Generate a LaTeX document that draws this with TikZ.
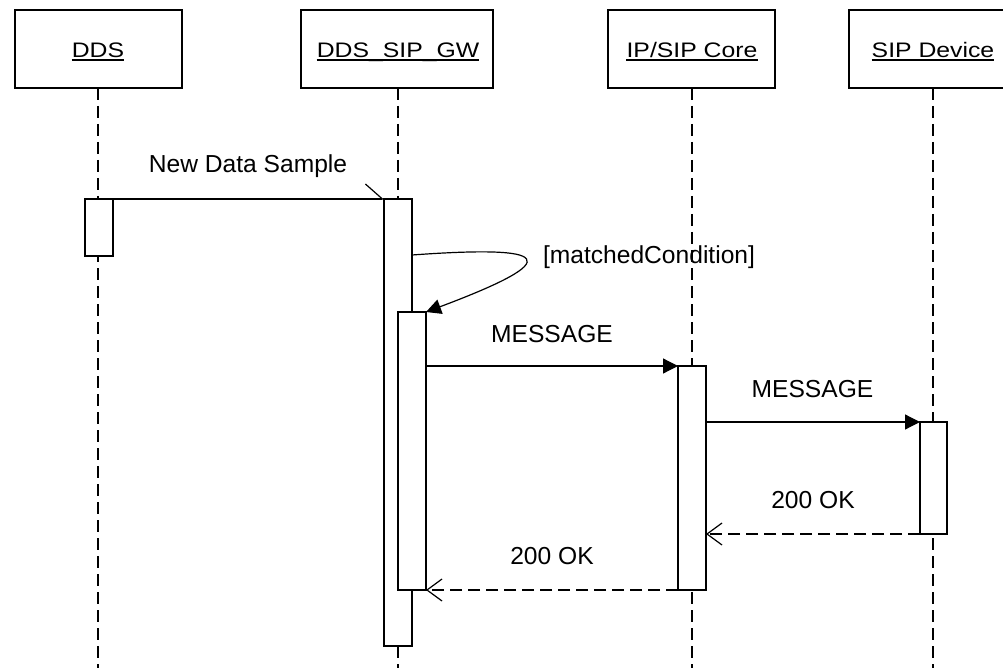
\documentclass[tikz,border=0pt]{standalone}
\usepackage{fontspec}
\setmainfont{Liberation Sans}
\usetikzlibrary{arrows.meta}

\begin{document}
\begin{tikzpicture}[x=1pt,y=-1pt,
  msgfont/.style={font=\fontsize{24.6}{28}\selectfont},
  lbl/.style={msgfont, anchor=base, inner sep=0pt},
  objbox/.style={draw, line width=1.2pt, rectangle, inner sep=0pt, outer sep=0pt,
                 minimum height=78pt},
  objname/.style={font=\fontsize{21}{24}\selectfont, anchor=base, inner sep=0pt},
  act/.style={draw, fill=white, line width=1.2pt, rectangle, inner sep=0pt,
              outer sep=0pt, minimum width=28pt},
  life/.style={line width=1.2pt, dash pattern=on 12pt off 6pt},
  call/.style={line width=1.2pt, -{Triangle[length=15pt,width=15pt]}},
  async/.style={line width=1.2pt, -{Straight Barb[harpoon,length=17pt,width=30pt]}},
  reply/.style={line width=1.2pt, dash pattern=on 12pt off 6pt,
                -{Straight Barb[length=15pt,width=22pt]}},
  uline/.style={line width=1.3pt}]

\clip (0,0) rectangle (1003,668);
\fill[white] (0,0) rectangle (1003,668);

% participant boxes
\node[objbox, minimum width=167pt] (dds)  at (98.5,49) {};
\node[objbox, minimum width=192pt] (gw)   at (397,49)  {};
\node[objbox, minimum width=167pt] (core) at (691.5,49) {};
\node[objbox, minimum width=168pt] (dev)  at (933,49)  {};

% participant names (underlined)
\node[objname] (ddsT)  at (98,57.3)  {\scalebox{1.18}[1]{DDS}};
\node[objname] (gwT)   at (398,57.3) {\scalebox{1.18}[1]{DDS\_SIP\_GW}};
\node[objname] (coreT) at (692,57.3) {\scalebox{1.18}[1]{IP/SIP Core}};
\node[objname] (devT)  at (933,57.3) {\scalebox{1.18}[1]{SIP Device}};
\foreach \t in {ddsT,gwT,coreT,devT}
  \draw[uline] ([yshift=-2.8pt]\t.base west) -- ([yshift=-2.8pt]\t.base east);

% lifelines
\coordinate (ddsEnd)  at (98,668);
\coordinate (gwEnd)   at (398,668);
\coordinate (coreEnd) at (692,668);
\coordinate (devEnd)  at (933,668);
\draw[life] (98,88) -- (ddsEnd);
\draw[life] (398,88) -- (gwEnd);
\draw[life] (692,88) -- (coreEnd);
\draw[life] (933,88) -- (devEnd);

% activation bars
\node[act, minimum height=57pt]  (ddsA)  at (99,227.5) {};
\node[act, minimum height=447pt] (gwA)   at (398,422.5) {};
\node[act, minimum height=278pt] (gwB)   at (412,451) {};
\node[act, minimum height=224pt] (coreA) at (692,478) {};
\node[act, minimum width=27pt, minimum height=112pt] (devA) at (933.5,478) {};

% messages
\draw[async] (ddsA.north east) -- (gwA.north west);
\node[lbl] (newData) at (248,173) {New Data Sample};

\coordinate (selfStart) at ([yshift=-56pt]gwA.north east);
\draw[call] (selfStart) .. controls (550,245) and (570,258) .. (gwB.north east);
\node[lbl] (cond) at (649,263) {[matchedCondition]};

\draw[call] (gwB.east |- coreA.north west) -- (coreA.north west);
\node[lbl] (msg1) at (552,342) {MESSAGE};

\draw[call] (coreA.east |- devA.north west) -- (devA.north west);
\node[lbl] (msg2) at (812.5,397) {MESSAGE};

\draw[reply] (devA.south west) -- (coreA.east |- devA.south west);
\node[lbl] (ok1) at (813,508) {200 OK};

\draw[reply] (coreA.south west) -- (gwB.south east);
\node[lbl] (ok2) at (552,564) {200 OK};

\end{tikzpicture}
\end{document}
